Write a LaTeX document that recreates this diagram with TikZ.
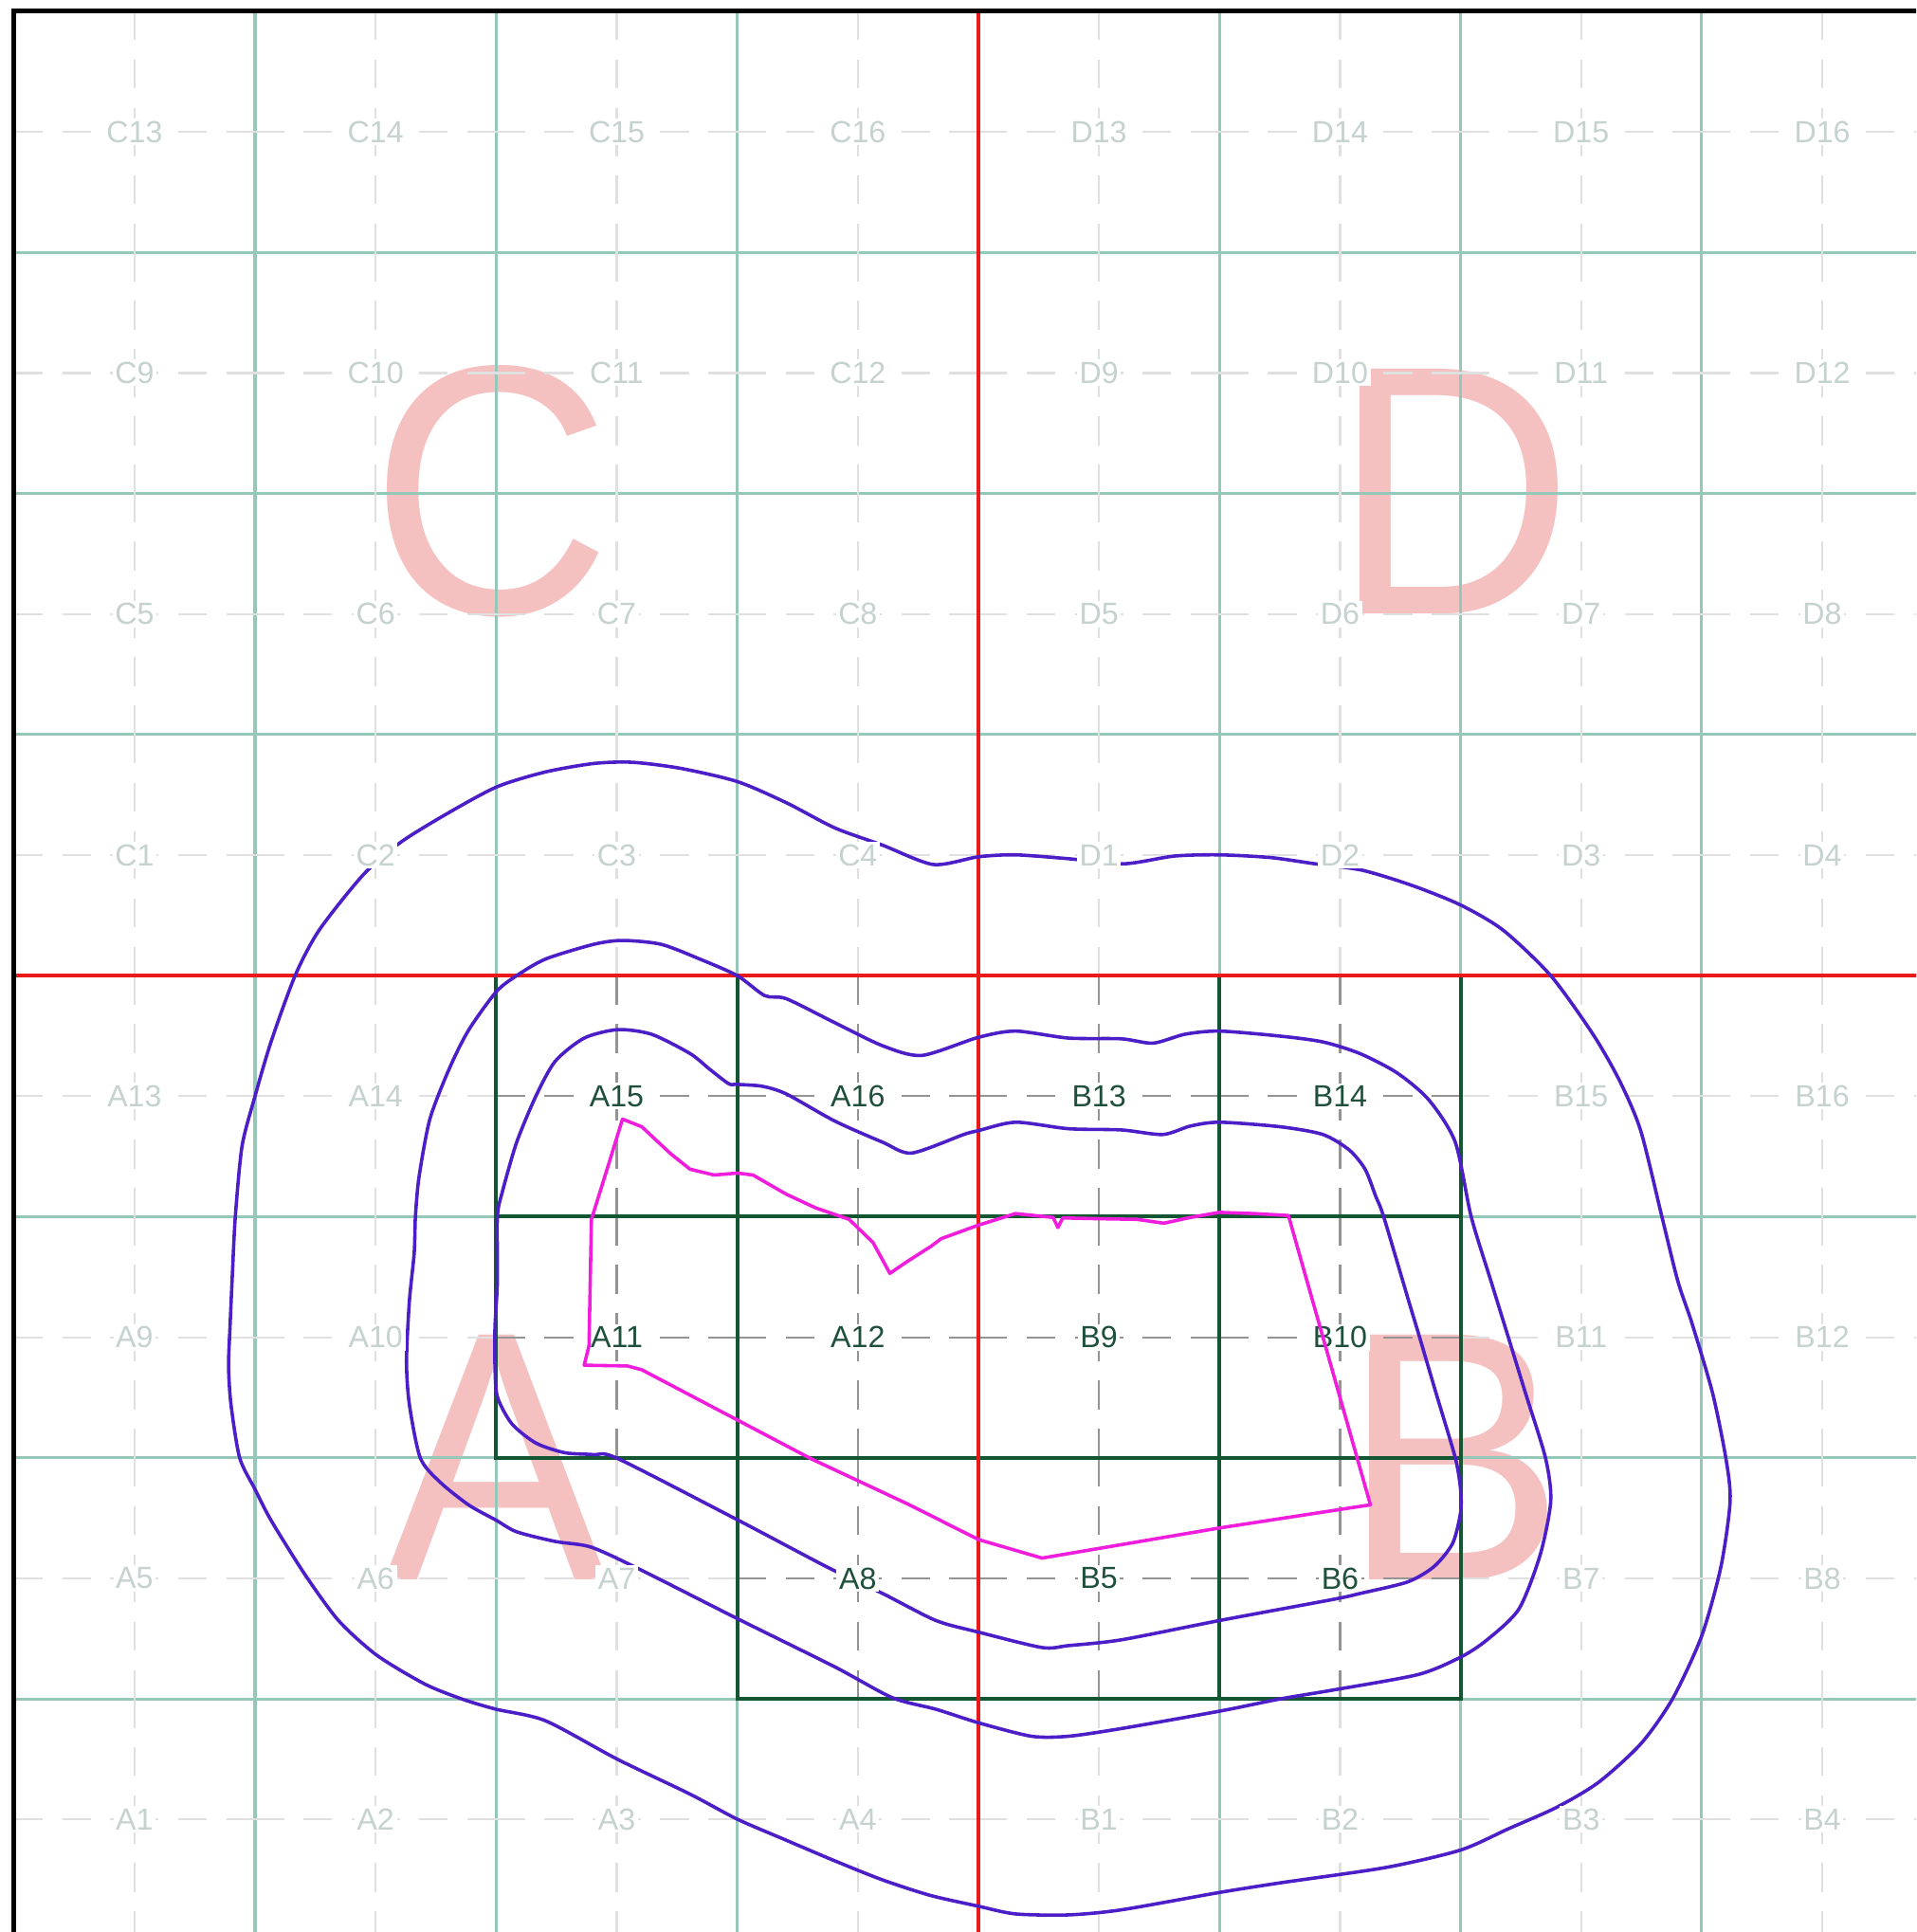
\documentclass[tikz,border=0pt]{standalone}
\usepackage{fontspec}
\setmainfont{Liberation Sans}
\definecolor{gridteal}{RGB}{150,200,185}
\definecolor{cellgreen}{RGB}{20,85,50}
\definecolor{labeldark}{RGB}{30,80,60}
\definecolor{labelfade}{RGB}{198,210,208}
\definecolor{zonepink}{RGB}{245,192,192}
\definecolor{contourblue}{RGB}{75,30,200}
\definecolor{axisred}{RGB}{235,25,25}
\definecolor{pathmagenta}{RGB}{240,30,220}
\newcommand{\cellinfo}[2]{%
  \pgfmathtruncatemacro\cellno{4*mod(#2,4)+mod(#1,4)+1}%
  \pgfmathtruncatemacro\cellq{(#1>3)+2*(#2>3)}%
  \pgfmathtruncatemacro\cellhot{and(#1>1,#1<6)*and(#2>1,#2<4)+and(#1>2,#1<6)*(#2==1)}%
  \edef\cellname{\ifcase\cellq A\or B\or C\or D\fi\cellno}%
}

\begin{document}
\begin{tikzpicture}[x=2cm,y=2cm,
  gridline/.style={gridteal,line width=0.7pt},
  crossline/.style={black!#1,line width=0.5pt,dash pattern=on 0.24cm off 0.16cm},
  celllabel/.style={fill=white,inner sep=0.6pt,font=\fontsize{7.2}{8}\selectfont},
  zone/.style={zonepink,font=\fontsize{84}{84}\selectfont,xscale=0.94,transform shape},
  contour/.style={contourblue,line width=0.8pt,line join=round}]
\useasboundingbox (-0.058,0.033) rectangle (7.89,8.047);
\clip (-0.058,0.033) rectangle (7.89,8.047);
% quadrant letters
\node[zone] (zoneC) at (1.98,6.01) {C};
\node[zone] (zoneD) at (5.97,6.01) {D};
\node[zone] (zoneA) at (2.0,2.0) {A};
\node[zone] (zoneB) at (5.97,2.0) {B};
% grid
\foreach \k in {1,...,7} {
  \draw[gridline] (\k,0) -- (\k,8);
  \draw[gridline] (0,\k) -- (8,\k);
}
\foreach \i in {0,...,7} {
  \foreach \j in {0,...,7} {
    \cellinfo{\i}{\j}
    \ifnum\cellhot=1 \def\shade{42}\else\def\shade{12}\fi
    \foreach \dx/\dy in {-0.5/0,0.5/0,0/-0.5,0/0.5}
      \draw[crossline=\shade] (\i+0.5+\dx,\j+0.5+\dy) -- (\i+0.5,\j+0.5);
  }
}
\foreach \i/\j in {2/3,3/3,4/3,5/3,2/2,3/2,4/2,5/2,3/1,4/1,5/1}
  \draw[cellgreen,line width=0.9pt] (\i,\j) rectangle ++(1,1);
\draw[axisred,line width=1pt] (4,0) -- (4,8);
\draw[axisred,line width=1pt] (0,4) -- (8,4);
% contours
\draw[contour] plot[smooth cycle,tension=0.45] coordinates {
  (1.45,4.42) (1.605,4.554) (1.805,4.677) (2.005,4.784) (2.205,4.845) (2.405,4.88)
  (2.565,4.885) (2.764,4.86) (3.0,4.805) (3.204,4.717) (3.404,4.613) (3.603,4.541)
  (3.813,4.461) (4.0,4.493) (4.154,4.501) (4.374,4.485) (4.604,4.464) (4.813,4.496)
  (5.0,4.501) (5.209,4.49) (5.396,4.464) (5.593,4.437) (5.802,4.373) (6.0,4.293)
  (6.176,4.189) (6.374,4.0) (6.549,3.757) (6.659,3.565) (6.747,3.357) (6.835,3.0)
  (6.901,2.733) (6.96,2.557) (7.045,2.269) (7.1,2.0) (7.118,1.821) (7.08,1.549)
  (7.0,1.261) (6.879,1.0) (6.747,0.813) (6.571,0.653) (6.396,0.549) (6.198,0.461)
  (6.0,0.373) (5.692,0.301) (5.253,0.237) (5.0,0.197) (4.593,0.125) (4.374,0.104)
  (4.154,0.108) (4.0,0.14) (3.8,0.185) (3.6,0.25) (3.4,0.33) (3.2,0.415)
  (3.0,0.501) (2.804,0.605) (2.504,0.749) (2.205,0.909) (2.0,0.957) (1.865,0.997)
  (1.705,1.061) (1.505,1.181) (1.346,1.325) (1.206,1.517) (1.066,1.741) (1.0,1.869)
  (0.936,2.0) (0.9,2.221) (0.89,2.381) (0.896,2.541) (0.906,2.765) (0.918,3.0)
  (0.946,3.293) (1.0,3.501) (1.066,3.725) (1.166,4.0) (1.266,4.189)};
\draw[contour] plot[smooth cycle,tension=0.45] coordinates {
  (2.0,3.933) (2.085,4.0) (2.205,4.069) (2.405,4.13) (2.524,4.146) (2.684,4.13)
  (2.844,4.069) (3.0,4.0) (3.114,3.917) (3.204,3.904) (3.404,3.805) (3.603,3.709)
  (3.765,3.669) (4.0,3.744) (4.154,3.77) (4.374,3.741) (4.593,3.738) (4.725,3.72)
  (4.857,3.757) (5.0,3.77) (5.253,3.749) (5.429,3.725) (5.582,3.677) (5.736,3.597)
  (5.868,3.485) (5.978,3.309) (6.044,3.0) (6.126,2.733) (6.198,2.5) (6.269,2.269)
  (6.352,2.0) (6.374,1.821) (6.33,1.597) (6.242,1.373) (6.11,1.245) (6.0,1.173)
  (5.824,1.101) (5.473,1.037) (5.253,1.0) (5.0,0.949) (4.593,0.877) (4.374,0.845)
  (4.22,0.845) (4.0,0.901) (3.824,0.957) (3.643,1.005) (3.404,1.133) (3.0,1.333)
  (2.604,1.533) (2.395,1.629) (2.245,1.653) (2.085,1.693) (2.0,1.741) (1.885,1.805)
  (1.765,1.901) (1.685,2.0) (1.64,2.221) (1.628,2.4) (1.64,2.65) (1.66,2.85)
  (1.665,3.0) (1.68,3.165) (1.725,3.405) (1.805,3.613) (1.885,3.773)};
\draw[contour] plot[smooth cycle,tension=0.45] coordinates {
  (2.005,3.0) (2.025,3.101) (2.085,3.309) (2.165,3.501) (2.245,3.645) (2.365,3.741)
  (2.504,3.776) (2.644,3.757) (2.804,3.677) (2.884,3.613) (2.964,3.552) (3.0,3.549)
  (3.104,3.541) (3.204,3.509) (3.404,3.397) (3.603,3.309) (3.723,3.264) (3.939,3.341)
  (4.0,3.357) (4.154,3.392) (4.374,3.365) (4.593,3.36) (4.765,3.341) (4.879,3.376)
  (5.0,3.392) (5.253,3.373) (5.429,3.341) (5.538,3.277) (5.604,3.197) (5.648,3.085)
  (5.681,3.0) (5.784,2.653) (5.83,2.5) (5.898,2.269) (5.978,2.0) (6.0,1.869)
  (6.0,1.773) (5.967,1.645) (5.89,1.549) (5.78,1.485) (5.582,1.437) (5.473,1.413)
  (5.0,1.325) (4.593,1.245) (4.374,1.221) (4.264,1.213) (4.0,1.277) (3.824,1.325)
  (3.603,1.437) (3.384,1.541) (3.004,1.741) (2.504,1.997) (2.405,2.013) (2.285,2.021)
  (2.165,2.061) (2.065,2.141) (2.005,2.253) (1.995,2.381) (1.995,2.541) (2.005,2.733)};
% cell labels
\foreach \i in {0,...,7} {
  \foreach \j in {0,...,7} {
    \cellinfo{\i}{\j}
    \ifnum\cellhot=1 \def\ink{labeldark}\else\def\ink{labelfade}\fi
    \node[celllabel,text=\ink] (\cellname) at (\i+0.5,\j+0.5) {\cellname};
  }
}
\draw[pathmagenta,line width=0.8pt,line join=round] (2.524,3.405) -- (2.604,3.373)
  -- (2.724,3.261) -- (2.804,3.197) -- (2.904,3.173) -- (3.0,3.181) -- (3.065,3.173)
  -- (3.204,3.093) -- (3.324,3.037) -- (3.464,2.989) -- (3.563,2.893) -- (3.633,2.765)
  -- (3.703,2.813) -- (3.803,2.877) -- (3.846,2.909) -- (4.0,2.965) -- (4.154,3.013)
  -- (4.31,2.997) -- (4.33,2.955) -- (4.35,2.995) -- (4.484,2.992) -- (4.659,2.989)
  -- (4.769,2.973) -- (4.879,2.997) -- (5.0,3.018) -- (5.143,3.013) -- (5.286,3.005)
  -- (5.626,1.805) -- (5.0,1.709) -- (4.264,1.584) -- (4.0,1.661) -- (3.714,1.805)
  -- (3.304,1.997) -- (3.0,2.157) -- (2.604,2.365) -- (2.544,2.381) -- (2.365,2.384)
  -- (2.385,2.464) -- (2.395,2.989) -- (2.465,3.213) -- cycle;
\draw[line width=1.1pt] (0,0) rectangle (8,8);
\end{tikzpicture}
\end{document}
